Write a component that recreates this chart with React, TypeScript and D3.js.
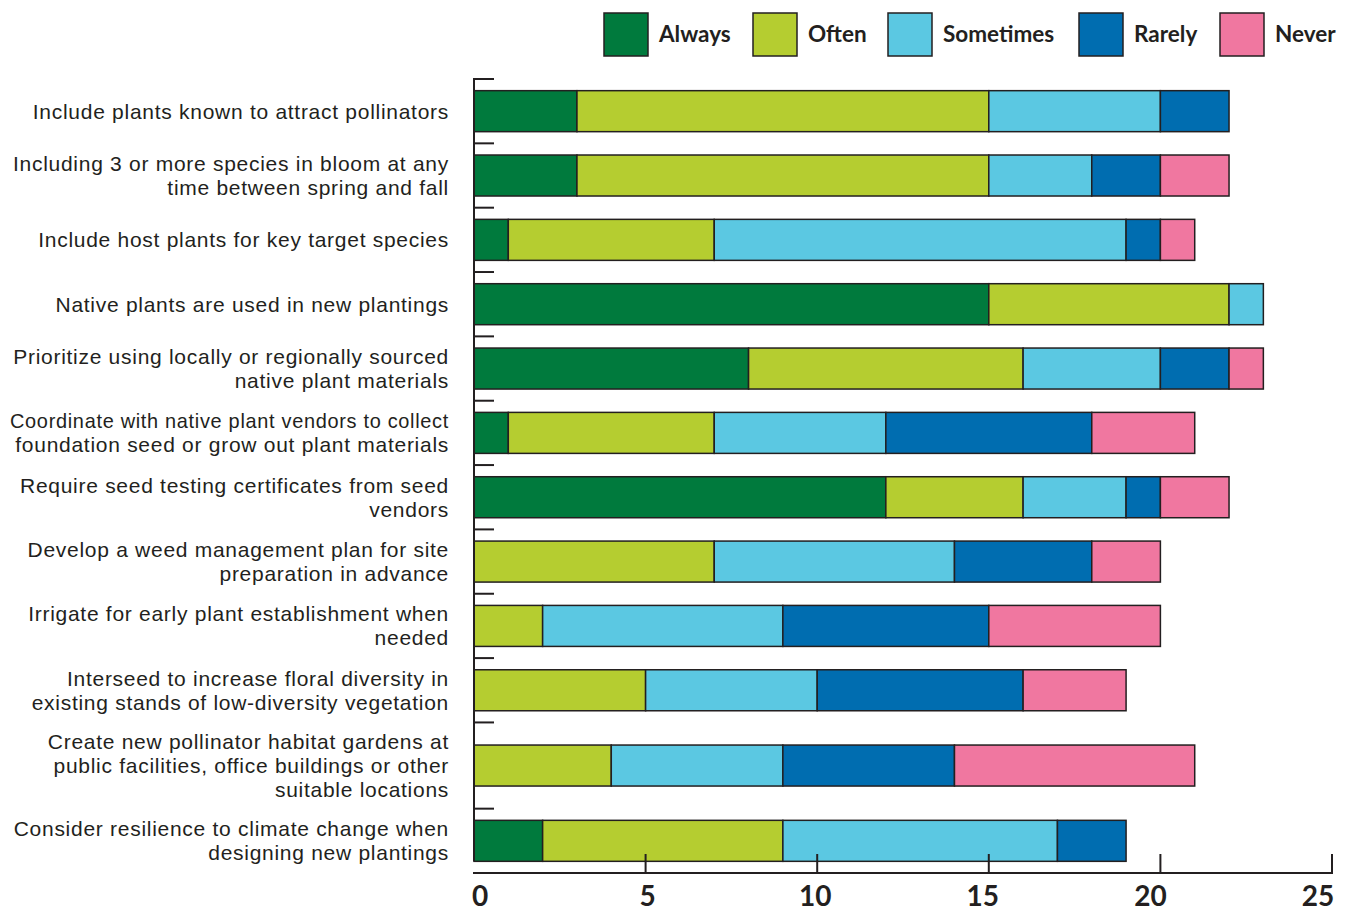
import React from "react";
import * as d3 from "d3";

const categories: string[][] = [
  ["Include plants known to attract pollinators"],
  ["Including 3 or more species in bloom at any", "time between spring and fall"],
  ["Include host plants for key target species"],
  ["Native plants are used in new plantings"],
  ["Prioritize using locally or regionally sourced", "native plant materials"],
  ["Coordinate with native plant vendors to collect", "foundation seed or grow out plant materials"],
  ["Require seed testing certificates from seed", "vendors"],
  ["Develop a weed management plan for site", "preparation in advance"],
  ["Irrigate for early plant establishment when", "needed"],
  ["Interseed to increase floral diversity in", "existing stands of low-diversity vegetation"],
  ["Create new pollinator habitat gardens at", "public facilities, office buildings or other", "suitable locations"],
  ["Consider resilience to climate change when", "designing new plantings"],
];

const seriesNames = ["Always", "Often", "Sometimes", "Rarely", "Never"];
const always = [3, 3, 1, 15, 8, 1, 12, 0, 0, 0, 0, 2];
const often = [12, 12, 6, 7, 8, 6, 4, 7, 2, 5, 4, 7];
const sometimes = [5, 3, 12, 1, 4, 5, 3, 7, 7, 5, 5, 8];
const rarely = [2, 2, 1, 0, 2, 6, 1, 4, 6, 6, 5, 2];
const never = [0, 2, 1, 0, 1, 3, 2, 2, 5, 3, 7, 0];
const xTicks = [0, 5, 10, 15, 20, 25];

const colors = ["#007a3d", "#b5cd30", "#5bc8e2", "#006db0", "#f077a0"];
const ink = "#231f20";
const font = "Lato, 'Open Sans', sans-serif";
const labelFont = "'Liberation Sans', Arial, sans-serif";

export default function App() {
  const W = 1350, H = 912;
  const x0 = 474, x1 = 1332;
  const x = d3.scaleLinear().domain([0, 25]).range([x0, x1]);
  const xLabel = d3.scaleLinear().domain([0, 25]).range([480, 1318]);

  const units = categories.map((c) => (c.length >= 3 ? 1.34 : 1));
  const cum: number[] = [0];
  units.forEach((u) => cum.push(cum[cum.length - 1] + u));
  const y = d3.scaleLinear().domain([0, cum[cum.length - 1]]).range([79, 873]);
  const barH = 41;

  const rows = categories.map((c, i) => ({
    Always: always[i],
    Often: often[i],
    Sometimes: sometimes[i],
    Rarely: rarely[i],
    Never: never[i],
  }));
  const stacked = d3.stack<any>().keys(seriesNames)(rows);

  const bandCenter = (i: number) => (y(cum[i]) + y(cum[i + 1])) / 2;

  const legendX = [604, 753, 888, 1079, 1220];
  const labelRight = 449;
  const maxLabelW = 439;

  return (
    <div style={{ position: "absolute", left: 0, top: 0 }}>
      <svg width={W} height={H} style={{ display: "block" }}>
        <rect width={W} height={H} fill="#fff" />
        {seriesNames.map((s, i) => (
          <g key={s}>
            <rect x={legendX[i]} y={13} width={44} height={43} fill={colors[i]} stroke={ink} strokeWidth={1.5} />
            <text x={legendX[i] + 55} y={42} fontFamily={font} fontWeight={700} fontSize={22.5} fill={ink}>
              {s}
            </text>
          </g>
        ))}
        {stacked.map((layer, si) => (
          <g key={seriesNames[si]}>
            {layer.map((d, i) =>
              d[1] - d[0] > 0 ? (
                <rect
                  key={i}
                  x={x(d[0])}
                  y={bandCenter(i) - barH / 2}
                  width={x(d[1]) - x(d[0])}
                  height={barH}
                  fill={colors[si]}
                  stroke={ink}
                  strokeWidth={1.5}
                />
              ) : null
            )}
          </g>
        ))}
        <line x1={x0} x2={x0} y1={y(0)} y2={bandCenter(categories.length - 1) + barH / 2} stroke={ink} strokeWidth={2} />
        {categories.map((c, i) => (
          <line key={i} x1={x0 - 1} x2={x0 + 20} y1={y(cum[i])} y2={y(cum[i])} stroke={ink} strokeWidth={2} />
        ))}
        {categories.map((lines, i) => {
          const cy = bandCenter(i);
          const lh = 24;
          const start = cy - ((lines.length - 1) * lh) / 2;
          return (
            <g key={i}>
              {lines.map((l, j) => (
                <text
                  key={j}
                  x={labelRight}
                  y={start + j * lh + 7.5}
                  textAnchor="end"
                  fontFamily={labelFont}
                  fontSize={21}
                  letterSpacing={0.72}
                  fill={ink}
                  ref={(el) => {
                    if (el) {
                      el.removeAttribute("textLength");
                      el.removeAttribute("lengthAdjust");
                      const w = el.getComputedTextLength();
                      if (w > maxLabelW) {
                        el.setAttribute("textLength", String(maxLabelW));
                        el.setAttribute("lengthAdjust", "spacingAndGlyphs");
                      }
                    }
                  }}
                >
                  {l}
                </text>
              ))}
            </g>
          );
        })}
        <line x1={x0 - 1} x2={x1 + 1} y1={873} y2={873} stroke={ink} strokeWidth={2} />
        {xTicks.filter((t) => t > 0).map((t) => (
          <line key={t} x1={x(t)} x2={x(t)} y1={873} y2={854} stroke={ink} strokeWidth={2} />
        ))}
        {xTicks.map((t) => (
          <text key={t} x={xLabel(t)} y={906} textAnchor="middle" fontFamily={font} fontWeight={700} fontSize={28} fill={ink}>
            {t}
          </text>
        ))}
      </svg>
    </div>
  );
}
